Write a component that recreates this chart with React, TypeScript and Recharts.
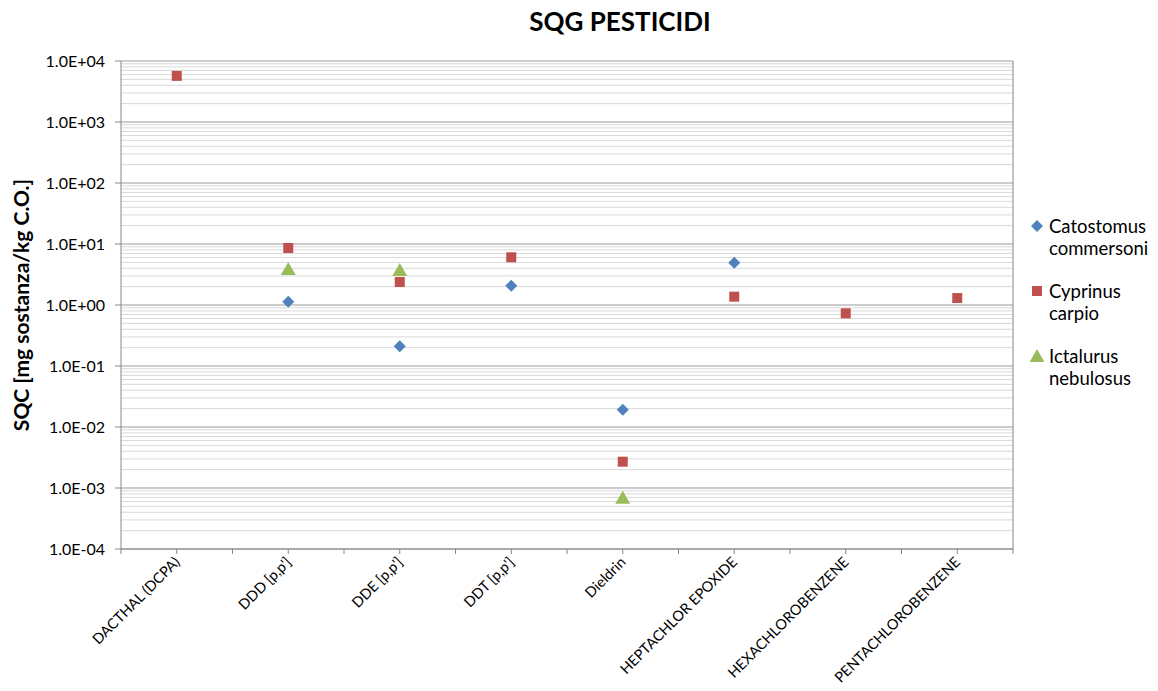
import { ScatterChart, Scatter, XAxis, YAxis, CartesianGrid, ReferenceLine } from "recharts";

const categories = [
  "DACTHAL (DCPA)",
  "DDD [p,p']",
  "DDE [p,p']",
  "DDT [p,p']",
  "Dieldrin",
  "HEPTACHLOR EPOXIDE",
  "HEXACHLOROBENZENE",
  "PENTACHLOROBENZENE",
];

// valori (null = nessun dato)
const catostomus = [null, 1.13, 0.21, 2.07, 0.0192, 4.94, null, null];
const cyprinus = [5700, 8.6, 2.38, 6.05, 0.0027, 1.37, 0.73, 1.3];
const ictalurus = [null, 3.9, 3.75, null, 0.00069, null, null, null];

const yTicks = [1e-4, 1e-3, 1e-2, 1e-1, 1, 1e1, 1e2, 1e3, 1e4];
const xTicks = [0.5, 1, 1.5, 2, 2.5, 3, 3.5, 4, 4.5, 5, 5.5, 6, 6.5, 7, 7.5, 8, 8.5];

const BLUE = "#4f81bd";
const RED = "#c0504d";
const GREEN = "#9bbb59";

const toPoints = (vals: (number | null)[]) =>
  vals
    .map((v, i) => (v == null ? null : { x: i + 1, y: v, name: categories[i] }))
    .filter((p) => p !== null);

// linee minori 2..9 per ogni decade
const minorLines: number[] = [];
for (let i = 0; i < yTicks.length - 1; i++) {
  for (let m = 2; m <= 9; m++) minorLines.push(yTicks[i] * m);
}

function fmtExp(v: number) {
  const e = Math.round(Math.log10(v));
  const sign = e < 0 ? "-" : "+";
  return `1.0E${sign}${String(Math.abs(e)).padStart(2, "0")}`;
}

function Diamond({ cx, cy, color = BLUE }: any) {
  const r = 6;
  return <polygon points={`${cx},${cy - r} ${cx + r},${cy} ${cx},${cy + r} ${cx - r},${cy}`} fill={color} />;
}

function Square({ cx, cy, color = RED }: any) {
  const r = 5;
  return <rect x={cx - r} y={cy - r} width={r * 2} height={r * 2} fill={color} />;
}

function Triangle({ cx, cy, color = GREEN }: any) {
  return <polygon points={`${cx},${cy - 7} ${cx + 7.5},${cy + 6} ${cx - 7.5},${cy + 6}`} fill={color} />;
}

function XTick({ x, y, payload }: any) {
  const v = payload.value;
  if (!Number.isInteger(v)) return <g />;
  return (
    <text
      x={x + 4}
      y={y + 7}
      textAnchor="end"
      fontSize={14.5}
      fill="#000"
      transform={`rotate(-45, ${x + 4}, ${y + 7})`}
    >
      {categories[v - 1]}
    </text>
  );
}

const legendItems = [
  { lines: ["Catostomus", "commersoni"], shape: "diamond", color: BLUE },
  { lines: ["Cyprinus", "carpio"], shape: "square", color: RED },
  { lines: ["Ictalurus", "nebulosus"], shape: "triangle", color: GREEN },
];

function LegendMarker({ shape, color }: { shape: string; color: string }) {
  return (
    <svg width={14} height={14} style={{ position: "absolute", left: 0, top: 4 }}>
      {shape === "diamond" && <Diamond cx={7} cy={7} color={color} />}
      {shape === "square" && <Square cx={7} cy={7} color={color} />}
      {shape === "triangle" && <Triangle cx={7} cy={7} color={color} />}
    </svg>
  );
}

export default function App() {
  return (
    <div
      style={{
        position: "absolute",
        left: 0,
        top: 0,
        width: 1158,
        height: 691,
        background: "#fff",
        fontFamily: "Lato, 'Open Sans', sans-serif",
      }}
    >
      <div
        style={{
          position: "absolute",
          top: 5,
          left: 0,
          width: 1240,
          textAlign: "center",
          fontSize: 26,
          fontWeight: 700,
          color: "#000",
        }}
      >
        SQG PESTICIDI
      </div>
      <ScatterChart width={1158} height={691} margin={{ top: 61, right: 145, bottom: 0, left: 0 }}>
        <CartesianGrid horizontalValues={minorLines} vertical={false} stroke="#d9d9d9" strokeWidth={1} />
        <CartesianGrid horizontalValues={yTicks} vertical={false} stroke="#9a9a9a" strokeWidth={1} />
        <XAxis
          type="number"
          dataKey="x"
          domain={[0.5, 8.5]}
          ticks={xTicks}
          interval={0}
          allowDataOverflow
          height={142}
          tick={<XTick />}
          tickSize={5}
          tickMargin={2}
          stroke="#868686"
        />
        <YAxis
          type="number"
          dataKey="y"
          scale="log"
          domain={[1e-4, 1e4]}
          ticks={yTicks}
          interval={0}
          allowDataOverflow
          width={121}
          tickFormatter={fmtExp}
          tick={{ fill: "#000", fontSize: 16 }}
          tickSize={6}
          tickMargin={10}
          stroke="#868686"
          label={{
            value: "SQC [mg sostanza/kg C.O.]",
            angle: -90,
            position: "insideLeft",
            offset: 22,
            style: { textAnchor: "middle", fontSize: 21, fontWeight: 700, fill: "#000" },
          }}
        />
        <ReferenceLine x={8.5} stroke="#868686" ifOverflow="visible" />
        <Scatter name="Catostomus commersoni" data={toPoints(catostomus)} shape={<Diamond />} isAnimationActive={false} />
        <Scatter name="Cyprinus carpio" data={toPoints(cyprinus)} shape={<Square />} isAnimationActive={false} />
        <Scatter name="Ictalurus nebulosus" data={toPoints(ictalurus)} shape={<Triangle />} isAnimationActive={false} />
      </ScatterChart>
      <div style={{ position: "absolute", left: 1030, top: 215, fontSize: 18.5, lineHeight: "22px", color: "#000" }}>
        {legendItems.map((item) => (
          <div key={item.lines[0]} style={{ position: "relative", paddingLeft: 19, marginBottom: 21 }}>
            <LegendMarker shape={item.shape} color={item.color} />
            {item.lines.map((l) => (
              <div key={l}>{l}</div>
            ))}
          </div>
        ))}
      </div>
    </div>
  );
}
